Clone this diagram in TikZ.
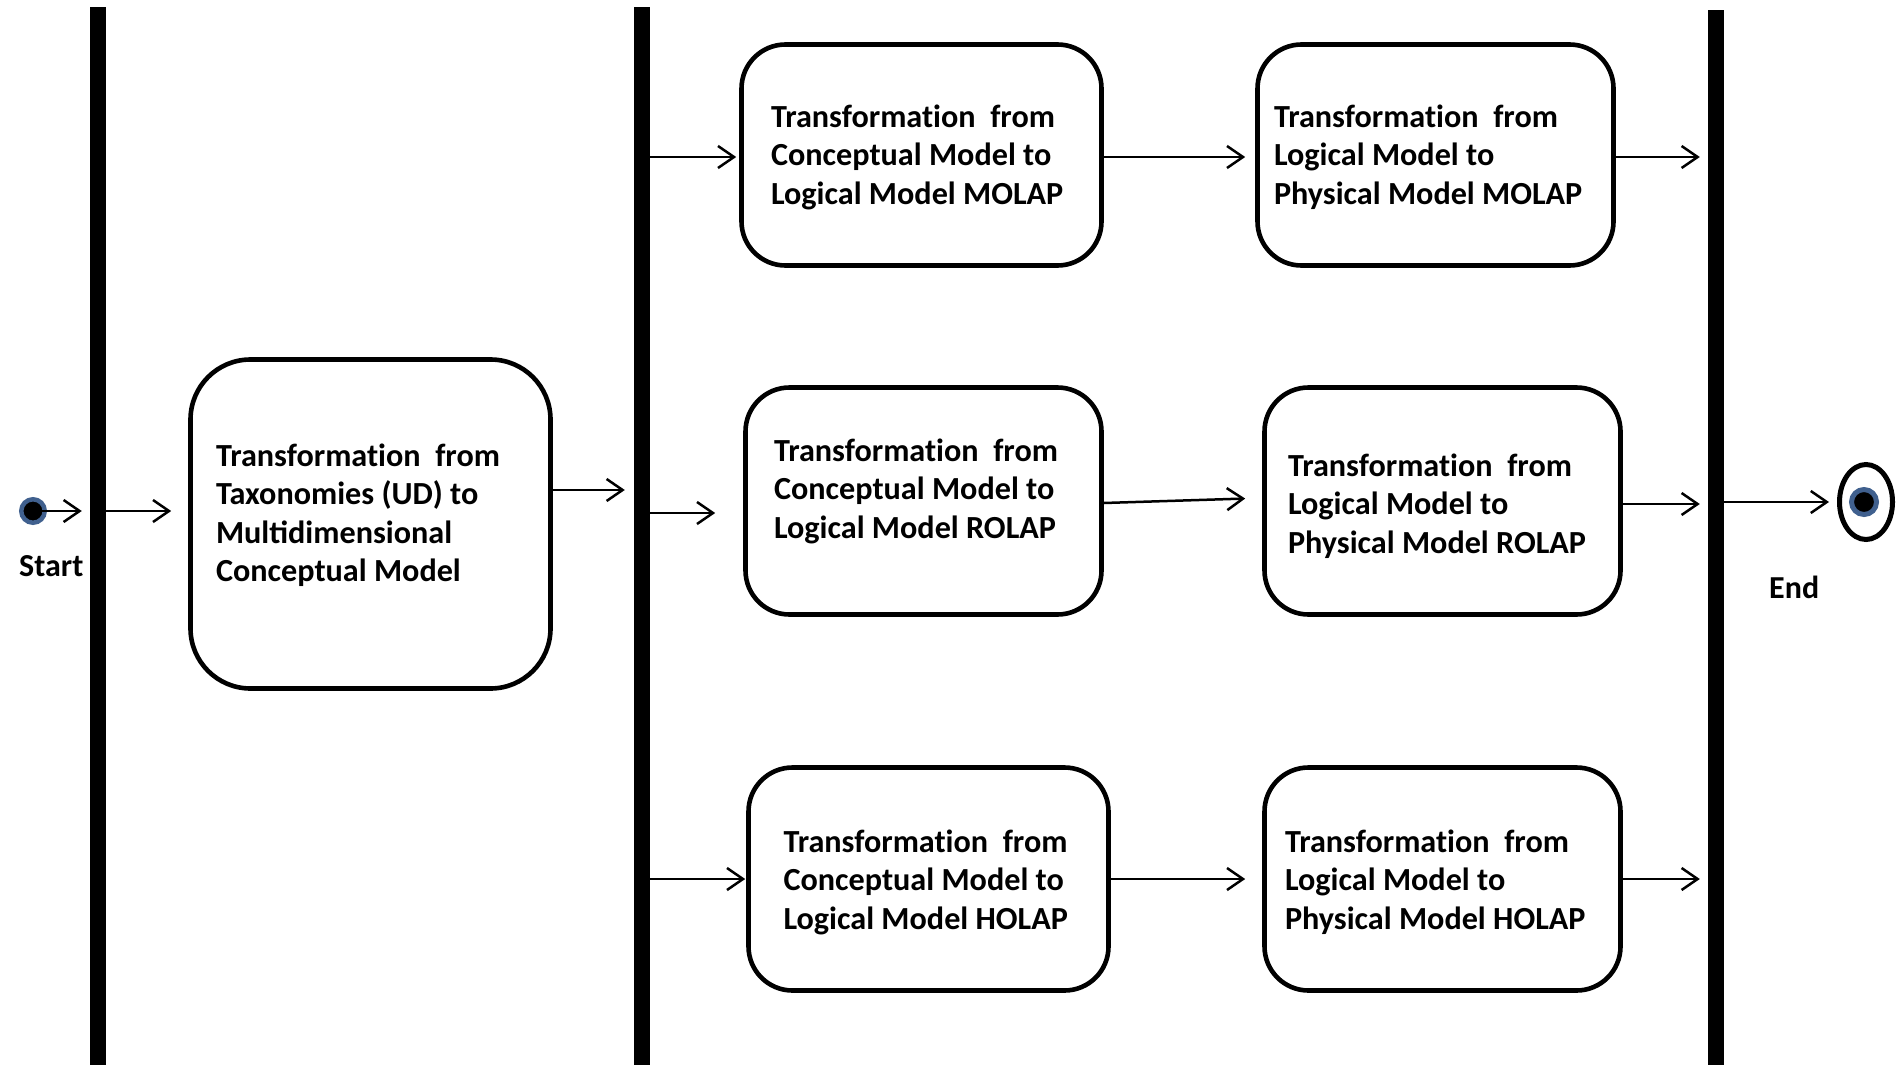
\documentclass[tikz,border=0pt]{standalone}
\usepackage{fontspec}
\setmainfont{Carlito}
\usetikzlibrary{arrows.meta,shapes.geometric,calc}
\definecolor{ringblue}{RGB}{64,96,142}
% raised, zero-height paragraph: #1 raise of first baseline above node centre, #2 width, #3 lines
\newcommand\bxt[3]{\raisebox{#1}[0pt][0pt]{\parbox[t]{#2}{\raggedright #3}}}
\newcommand\Tr{Transformat\kern0pt ion~ from}
\tikzset{
  bar/.style={rectangle,fill=black,inner sep=0pt,minimum width=16pt},
  stepbox/.style={rectangle,draw=black,line width=4.6pt,rounded corners=44pt,
    inner sep=0pt,font=\fontsize{32.2}{38.5}\selectfont\bfseries},
  arr/.style={line width=2.5pt,-{Straight Barb[length=16pt,width=22pt]}},
  lbl/.style={font=\fontsize{32}{38}\selectfont\bfseries,inner sep=0pt,anchor=base west},
}
\begin{document}
\begin{tikzpicture}[x=1pt,y=-1pt]
\useasboundingbox (0,0) rectangle (1897,1065);
% bars
\node[bar,minimum height=1058pt] (bar1) at (98,536) {};
\node[bar,minimum height=1058pt] (bar2) at (642,536) {};
\node[bar,minimum height=1055pt] (bar3) at (1716,537.5) {};
% boxes
\node[stepbox,rounded corners=60pt,minimum width=360pt,minimum height=329pt] (b1) at (370.5,524)
  {\bxt{58pt}{309pt}{\Tr\\Taxonomies (UD) to\\Multidimensional\\Conceptual Model}};
\node[stepbox,minimum width=360pt,minimum height=221pt] (cm) at (921.5,155)
  {\bxt{28pt}{301pt}{\Tr\\Conceptual Model to\\Logical Model MOLAP}};
\node[stepbox,minimum width=356pt,minimum height=221pt] (lm) at (1435.5,155)
  {\bxt{28pt}{323pt}{\Tr\\Logical Model to\\Physical Model MOLAP}};
\node[stepbox,minimum width=356pt,minimum height=227pt] (cr) at (923.5,501)
  {\bxt{40pt}{299pt}{\Tr\\Conceptual Model to\\Logical Model ROLAP}};
\node[stepbox,minimum width=356pt,minimum height=227pt] (lr) at (1442.5,501)
  {\bxt{25pt}{309pt}{\Tr\\Logical Model to\\Physical Model ROLAP}};
\node[stepbox,minimum width=360pt,minimum height=223pt] (ch) at (928.5,879)
  {\bxt{27pt}{290pt}{\Tr\\Conceptual Model to\\Logical Model HOLAP}};
\node[stepbox,minimum width=356pt,minimum height=223pt] (lh) at (1442.5,879)
  {\bxt{27pt}{315pt}{\Tr\\Logical Model to\\Physical Model HOLAP}};
% start and end
\node[circle,fill=black,draw=ringblue,line width=4.5pt,minimum size=23.5pt,inner sep=0pt] (start) at (33,511) {};
\node[lbl] (startlbl) at (19,576) {Start};
\node[ellipse,draw=black,line width=5pt,minimum width=53pt,minimum height=75pt,inner sep=0pt] (end) at (1866,502) {};
\node[circle,fill=black,draw=ringblue,line width=5pt,minimum size=25pt,inner sep=0pt] (enddot) at (1864,502) {};
\node[lbl] (endlbl) at (1769,598) {End};
% connector helper points
\coordinate (b1out) at ([yshift=34pt]b1.east);
\coordinate (crin) at ([yshift=-12pt]cr.west);
% connectors
\draw[arr,shorten >=8pt] (start.center) -- (bar1.west |- start.center);
\draw[arr,shorten >=17pt] (bar1.east |- start.center) -- (b1.west |- start.center);
\draw[arr,shorten >=9pt] (b1out) -- (bar2.west |- b1out);
\draw[arr,shorten >=3pt] ([yshift=-2pt]bar2.east |- cm.west) -- ([yshift=-2pt]cm.west);
\draw[arr,shorten >=10pt] ([yshift=-2pt]cm.east) -- ([yshift=-2pt]lm.west);
\draw[arr,shorten >=8pt] ([yshift=-2pt]lm.east) -- ([yshift=-2pt]bar3.west |- lm.east);
\draw[arr,shorten >=28pt] (bar2.east |- crin) -- (crin);
\draw[arr,shorten >=17pt] ([yshift=-2pt]cr.east) -- ([yshift=3pt]lr.west);
\draw[arr,shorten >=8pt] ([yshift=-3pt]lr.east) -- ([yshift=-3pt]bar3.west |- lr.east);
\draw[arr,shorten >=8pt] (bar3.east |- end.west) -- (end.west);
\draw[arr,shorten >=1pt] (bar2.east |- ch.west) -- (ch.west);
\draw[arr,shorten >=17pt] (ch.east) -- (lh.west);
\draw[arr,shorten >=8pt] (lh.east) -- (bar3.west |- lh.east);
\end{tikzpicture}
\end{document}
